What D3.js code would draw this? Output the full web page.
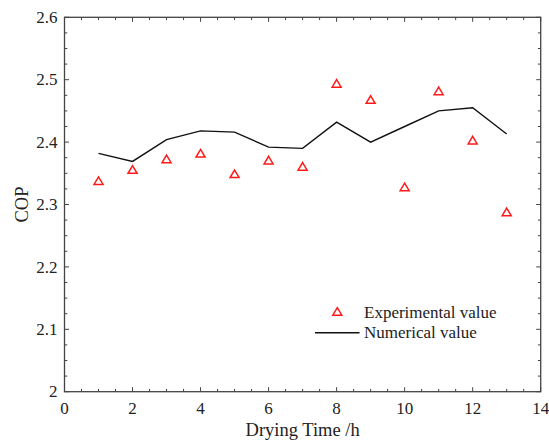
<!DOCTYPE html>
<html>
<head>
<meta charset="utf-8">
<script src="https://cdn.jsdelivr.net/npm/d3@7"></script>
<style>
  html, body { margin: 0; padding: 0; background: #fff; }
  svg { display: block; }
  text { font-family: "Liberation Serif", "Times New Roman", serif; fill: #222; }
</style>
</head>
<body>
<svg id="chart" width="549" height="441"></svg>
<script>
// Drying time (h)
const hours = [1, 2, 3, 4, 5, 6, 7, 8, 9, 10, 11, 12, 13];
// Measured COP
const experimental = [2.338, 2.356, 2.373, 2.382, 2.349, 2.371, 2.361, 2.494, 2.468, 2.328, 2.482, 2.403, 2.288];
// Simulated COP
const numerical = [2.382, 2.369, 2.404, 2.418, 2.416, 2.392, 2.390, 2.432, 2.400, 2.425, 2.450, 2.455, 2.413];

const xTicks = [0, 2, 4, 6, 8, 10, 12, 14];
const yTicks = [2, 2.1, 2.2, 2.3, 2.4, 2.5, 2.6];
const yTickLabels = ["2", "2.1", "2.2", "2.3", "2.4", "2.5", "2.6"];
const legendLabels = ["Experimental value", "Numerical value"];

const svg = d3.select("#chart");
const plot = { left: 64.5, right: 540.7, top: 17.3, bottom: 391.7 };

const x = d3.scaleLinear().domain([0, 14]).range([plot.left, plot.right]);
const y = d3.scaleLinear().domain([2, 2.6]).range([plot.bottom, plot.top]);

const axisColor = "#444";
const xMinor = d3.range(0, 14.001, 0.5);
const yMinor = d3.range(2, 2.6001, 0.025);

// Frame
svg.append("rect")
  .attr("x", plot.left).attr("y", plot.top)
  .attr("width", plot.right - plot.left).attr("height", plot.bottom - plot.top)
  .attr("fill", "none").attr("stroke", axisColor).attr("stroke-width", 1.3);

const isMajorX = v => Math.abs(v / 2 - Math.round(v / 2)) < 1e-6;
const isMajorY = v => Math.abs(v * 10 - Math.round(v * 10)) < 1e-6;

// Inward ticks on all four sides
const ticks = svg.append("g").attr("stroke", axisColor).attr("stroke-width", 1);
xMinor.forEach(v => {
  const len = isMajorX(v) ? 4.5 : 2.8;
  const px = x(v);
  ticks.append("line").attr("x1", px).attr("x2", px).attr("y1", plot.bottom).attr("y2", plot.bottom - len);
  ticks.append("line").attr("x1", px).attr("x2", px).attr("y1", plot.top).attr("y2", plot.top + len);
});
yMinor.forEach(v => {
  const len = isMajorY(v) ? 4.5 : 2.8;
  const py = y(v);
  ticks.append("line").attr("x1", plot.left).attr("x2", plot.left + len).attr("y1", py).attr("y2", py);
  ticks.append("line").attr("x1", plot.right).attr("x2", plot.right - len).attr("y1", py).attr("y2", py);
});

// Tick labels
svg.append("g").selectAll("text").data(xTicks).join("text")
  .attr("x", d => x(d)).attr("y", plot.bottom + 22.5)
  .attr("text-anchor", "middle").attr("font-size", 17)
  .text(d => d);

svg.append("g").selectAll("text").data(yTicks).join("text")
  .attr("x", plot.left - 7).attr("y", d => y(d)).attr("dy", "0.34em")
  .attr("text-anchor", "end").attr("font-size", 17)
  .text((d, i) => yTickLabels[i]);

// Axis titles
svg.append("text")
  .attr("x", (plot.left + plot.right) / 2).attr("y", 435.5)
  .attr("text-anchor", "middle").attr("font-size", 18.5)
  .text("Drying Time /h");

svg.append("text")
  .attr("transform", `translate(28,${(plot.top + plot.bottom) / 2}) rotate(-90)`)
  .attr("text-anchor", "middle").attr("font-size", 18.5)
  .text("COP");

// Numerical curve
const line = d3.line().x((d, i) => x(hours[i])).y(d => y(d));
svg.append("path")
  .datum(numerical)
  .attr("d", line)
  .attr("fill", "none").attr("stroke", "#111").attr("stroke-width", 1.4);

// Experimental markers
const tri = "M0,-3.9L4.5,3.7L-4.5,3.7Z";
svg.append("g").selectAll("path").data(experimental).join("path")
  .attr("transform", (d, i) => `translate(${x(hours[i])},${y(d)})`)
  .attr("d", tri)
  .attr("fill", "none").attr("stroke", "#ff1a1a").attr("stroke-width", 1.5);

// Legend
const lg = svg.append("g");
lg.append("path")
  .attr("transform", "translate(337.3,311.5)")
  .attr("d", tri)
  .attr("fill", "none").attr("stroke", "#ff1a1a").attr("stroke-width", 1.5);
lg.append("line")
  .attr("x1", 315).attr("x2", 359.5).attr("y1", 332.7).attr("y2", 332.7)
  .attr("stroke", "#111").attr("stroke-width", 1.4);
lg.append("text").attr("x", 364).attr("y", 317.5).attr("font-size", 17).text(legendLabels[0]);
lg.append("text").attr("x", 364).attr("y", 338.3).attr("font-size", 17).text(legendLabels[1]);
</script>
</body>
</html>
